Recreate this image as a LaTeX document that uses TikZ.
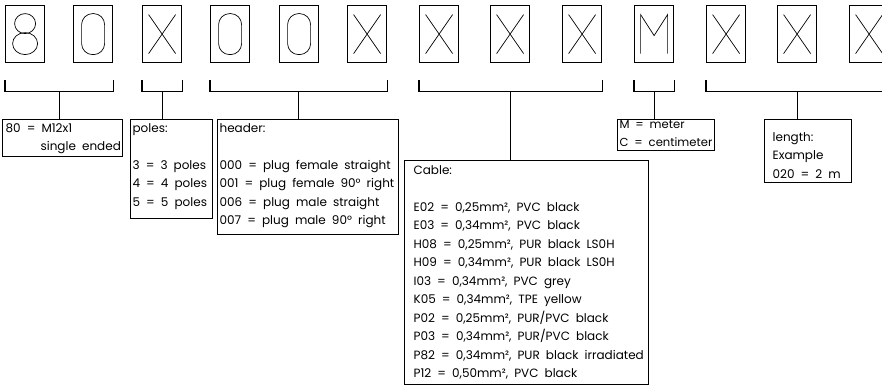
\documentclass[tikz,border=0pt]{standalone}
\usepackage{fontspec}
\setmainfont{Poppins}[WordSpace=1.9]
\usetikzlibrary{calc}
\tikzset{
  every picture/.style={line width=1.2pt},
  cell/.style={draw, minimum width=39pt, minimum height=57pt, inner sep=0pt, anchor=north west},
  glyph/.style={line width=0.7pt},
  bracket/.style={draw, line width=1.2pt},
  infobox/.style={draw, inner sep=0pt, anchor=north west},
  info/.style={anchor=north west, align=left, inner sep=0pt, font=\fontsize{12}{18.5}\selectfont},
  pics/g8/.style={code={
    \draw[glyph] (0,-10.5) ellipse [x radius=10.5pt, y radius=10pt];
    \draw[glyph] (0,9.5) ellipse [x radius=12.5pt, y radius=11pt];}},
  pics/g0/.style={code={
    \draw[glyph, rounded corners=11pt] (-11.5,-20.5) rectangle (11.5,20.5);}},
  pics/gX/.style={code={
    \draw[glyph] (-13.5,-19.5) -- (13.5,19.5) (-13.5,19.5) -- (13.5,-19.5);}},
  pics/gM/.style={code={
    \draw[glyph] (-13.5,19.5) -- (-13.5,-19.5) -- (0,1.5) -- (13.5,-19.5) -- (13.5,19.5);}},
}

\begin{document}
\begin{tikzpicture}[x=1pt, y=-1pt]
  \clip (0,0) rectangle (882,387);
  % code cells
  \foreach \i/\xl/\g in {1/5/8, 2/73/0, 3/142/X, 4/210/0, 5/279/0, 6/347/X, 7/419/X,
      8/490/X, 9/562/X, 10/634/M, 11/706/X, 12/777/X, 13/849/X} {
    \node[cell] (c\i) at (\xl,5) {};
    \pic at (c\i.center) {g\g};
  }
  % brackets
  \foreach \a/\b/\n in {1/2/a, 3/3/b, 4/6/c, 7/9/d, 10/10/e, 11/13/f} {
    \draw[bracket] ([yshift=-17pt]c\a.south west) -- ++(0,11) -| ([yshift=-17pt]c\b.south east);
    \coordinate (k\n) at ($(c\a.south west)!.5!(c\b.south east)+(0,28)$);
  }
  % connector
  \node[infobox, minimum width=120pt, minimum height=37pt] (conn) at (2,119) {};
  \node[info] (conntxt) at ($(conn.north west)+(3,4)$) {80 = M12x1\\\hspace*{35pt}single ended};
  % poles
  \node[infobox, minimum width=82pt, minimum height=99pt] (poles) at (130,119) {};
  \node[info] (polestxt) at ($(poles.north west)+(2,4)$) {poles:\\[18.5pt]3 = 3 poles\\4 = 4 poles\\5 = 5 poles};
  % header
  \node[infobox, minimum width=181pt, minimum height=115pt] (header) at (217,119) {};
  \node[info] (headertxt) at ($(header.north west)+(2,4)$) {header:\\[18.5pt]000 = plug female straight\\001 = plug female 90° right\\006 = plug male straight\\007 = plug male 90° right};
  % cable
  \node[infobox, minimum width=244pt, minimum height=224pt] (cable) at (404,160) {};
  \node[info] (cabletxt) at ($(cable.north west)+(9,5)$) {Cable:\\[18.5pt]E02 = 0,25mm², PVC black\\E03 = 0,34mm², PVC black\\H08 = 0,25mm², PUR black LS0H\\H09 = 0,34mm², PUR black LS0H\\I03 = 0,34mm², PVC grey\\K05 = 0,34mm², TPE yellow\\P02 = 0,25mm², PUR/PVC black\\P03 = 0,34mm², PUR/PVC black\\P82 = 0,34mm², PUR black irradiated\\P12 = 0,50mm², PVC black};
  % unit
  \node[infobox, minimum width=97pt, minimum height=31pt] (unit) at (617,119) {};
  \node[info, font=\fontsize{11.6}{18}\selectfont] (unittxt) at ($(unit.north west)+(2,1)$) {M = meter\\C = centimeter};
  % length
  \node[infobox, minimum width=87pt, minimum height=63pt] (length) at (764,119) {};
  \node[info] (lengthtxt) at ($(length.north west)+(8,13)$) {length:\\Example\\020 = 2 m};
  % stems
  \draw[bracket] (ka) -- (ka |- conn.north);
  \draw[bracket] (kb) -- (kb |- poles.north);
  \draw[bracket] (kc) -- (kc |- header.north);
  \draw[bracket] (kd) -- (kd |- cable.north);
  \draw[bracket] (ke) -- (ke |- unit.north);
  \draw[bracket] (kf) -- (kf |- length.north);
\end{tikzpicture}
\end{document}
